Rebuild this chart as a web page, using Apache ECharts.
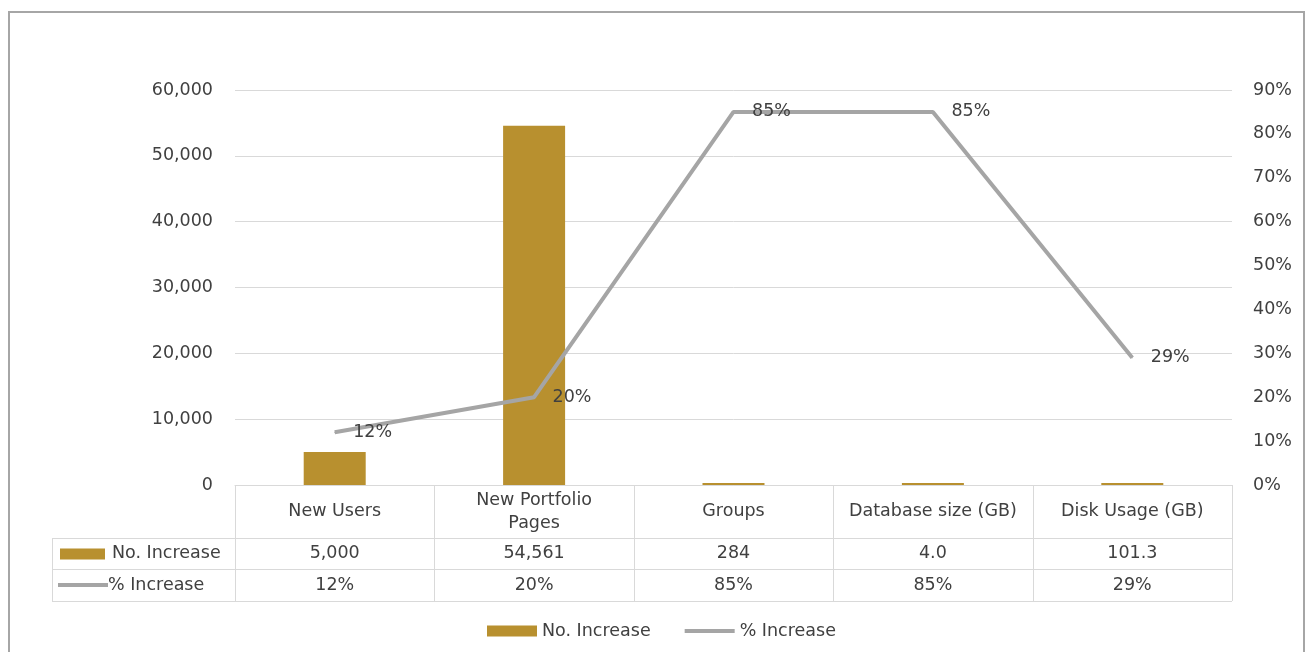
<!DOCTYPE html>
<html>
<head>
<meta charset="utf-8">
<script src="https://cdn.jsdelivr.net/npm/echarts@6/dist/echarts.min.js"></script>
<style>
  html, body { margin: 0; padding: 0; background: #fff; }
  #chart { width: 1313px; height: 652px; }
</style>
</head>
<body>
<div id="chart"></div>
<script>
// Usage figures per category
const categories = ['New Users', 'New Portfolio\nPages', 'Groups', 'Database size (GB)', 'Disk Usage (GB)'];
const noIncrease = [5000, 54561, 284, 4.0, 101.3];
const noIncreaseDecimals = [0, 0, 0, 1, 1];
const pctIncrease = [12, 20, 85, 85, 29];
const seriesNames = ['No. Increase', '% Increase'];

// Axis scales
const countAxis = { min: 0, max: 60000, interval: 10000 };
const pctAxis = { min: 0, max: 90, interval: 10 };

const FONT = 'DejaVu Sans';
const TEXT = '#404040';
const GOLD = '#B8902F';
const GREY_LINE = '#A5A5A5';
const RULE = '#D9D9D9';
const FS = 17.5;

const fmtCount = (v, d) => v.toLocaleString('en-US', { minimumFractionDigits: d, maximumFractionDigits: d });
const fmtPct = v => v + '%';

const chart = echarts.init(document.getElementById('chart'), null, { renderer: 'canvas' });

const option = {
  animation: false,
  backgroundColor: '#fff',
  textStyle: { fontFamily: FONT },
  grid: { left: 235, right: 81, top: 90, bottom: 167 },
  legend: {
    left: 482,
    top: 617,
    itemWidth: 50,
    itemHeight: 11,
    itemGap: 34,
    textStyle: { fontFamily: FONT, fontSize: FS, color: TEXT },
    data: [
      { name: seriesNames[0], icon: 'rect' },
      { name: seriesNames[1], icon: 'path://M0,0H50V4H0Z' }
    ]
  },
  xAxis: {
    type: 'category',
    data: categories,
    axisLine: { show: true, lineStyle: { color: RULE, width: 1 } },
    axisTick: { show: false },
    axisLabel: { show: false }
  },
  yAxis: [
    {
      type: 'value',
      min: countAxis.min, max: countAxis.max, interval: countAxis.interval,
      axisLine: { show: false },
      axisTick: { show: false },
      splitLine: { lineStyle: { color: RULE, width: 1 } },
      axisLabel: {
        margin: 22, fontFamily: FONT, fontSize: FS, color: TEXT,
        formatter: v => fmtCount(v, 0)
      }
    },
    {
      type: 'value',
      min: pctAxis.min, max: pctAxis.max, interval: pctAxis.interval,
      axisLine: { show: false },
      axisTick: { show: false },
      splitLine: { show: false },
      axisLabel: {
        margin: 21, fontFamily: FONT, fontSize: FS, color: TEXT,
        formatter: v => fmtPct(v)
      }
    }
  ],
  series: [
    {
      name: seriesNames[0],
      type: 'bar',
      data: noIncrease,
      barWidth: 62,
      barMinHeight: 2,
      itemStyle: { color: GOLD }
    },
    {
      name: seriesNames[1],
      type: 'line',
      yAxisIndex: 1,
      data: pctIncrease,
      symbol: 'circle',
      symbolSize: 1,
      showSymbol: true,
      itemStyle: { color: GREY_LINE },
      lineStyle: { color: GREY_LINE, width: 4 },
      label: {
        show: true,
        position: 'right',
        distance: 18,
        fontFamily: FONT,
        fontSize: FS,
        color: TEXT,
        formatter: p => fmtPct(p.value)
      }
    }
  ]
};

chart.setOption(option);

// Data table under the plot, laid out from the category axis
function buildTable() {
  const centers = categories.map((c, i) => chart.convertToPixel({ xAxisIndex: 0 }, i));
  const band = centers.length > 1 ? centers[1] - centers[0] : 200;
  const x0 = centers[0] - band / 2;
  const x1 = centers[centers.length - 1] + band / 2;
  const yTop = chart.convertToPixel({ yAxisIndex: 0 }, 0);
  const labelLeft = 52;
  const yHeadBottom = yTop + 53;
  const yRow1Bottom = yHeadBottom + 31;
  const yRow2Bottom = yRow1Bottom + 32;
  const lineStyle = { stroke: RULE, lineWidth: 1 };
  const g = [];
  const hline = (xa, xb, y) => g.push({ type: 'line', silent: true, shape: { x1: xa, y1: y + 0.5, x2: xb, y2: y + 0.5 }, style: lineStyle });
  const vline = (x, ya, yb) => g.push({ type: 'line', silent: true, shape: { x1: x + 0.5, y1: ya, x2: x + 0.5, y2: yb }, style: lineStyle });

  hline(labelLeft, x1, yHeadBottom);
  hline(labelLeft, x1, yRow1Bottom);
  hline(labelLeft, x1, yRow2Bottom);
  for (let i = 0; i <= categories.length; i++) vline(Math.round(x0 + i * band), yTop, yRow2Bottom);
  vline(labelLeft, yHeadBottom, yRow2Bottom);

  const txt = (x, y, s, align) => g.push({
    type: 'text', silent: true, x, y,
    style: { text: s, fill: TEXT, fontFamily: FONT, fontSize: FS, align: align || 'center', verticalAlign: 'middle', lineHeight: 23 }
  });

  categories.forEach((c, i) => {
    txt(centers[i], (yTop + yHeadBottom) / 2, c);
    txt(centers[i], (yHeadBottom + yRow1Bottom) / 2, fmtCount(noIncrease[i], noIncreaseDecimals[i]));
    txt(centers[i], (yRow1Bottom + yRow2Bottom) / 2, fmtPct(pctIncrease[i]));
  });

  // Row keys
  const r1 = (yHeadBottom + yRow1Bottom) / 2;
  const r2 = (yRow1Bottom + yRow2Bottom) / 2;
  g.push({ type: 'rect', silent: true, shape: { x: 60, y: r1 - 5, width: 45, height: 11 }, style: { fill: GOLD } });
  txt(112, r1, seriesNames[0], 'left');
  g.push({ type: 'line', silent: true, shape: { x1: 58, y1: r2, x2: 108, y2: r2 }, style: { stroke: GREY_LINE, lineWidth: 4 } });
  txt(108, r2, seriesNames[1], 'left');

  // Chart frame
  g.push({ type: 'rect', silent: true, z: -1, shape: { x: 9, y: 12, width: 1295, height: 660 }, style: { fill: null, stroke: '#A6A6A6', lineWidth: 2 } });

  chart.setOption({ graphic: g });
}
buildTable();
</script>
</body>
</html>
